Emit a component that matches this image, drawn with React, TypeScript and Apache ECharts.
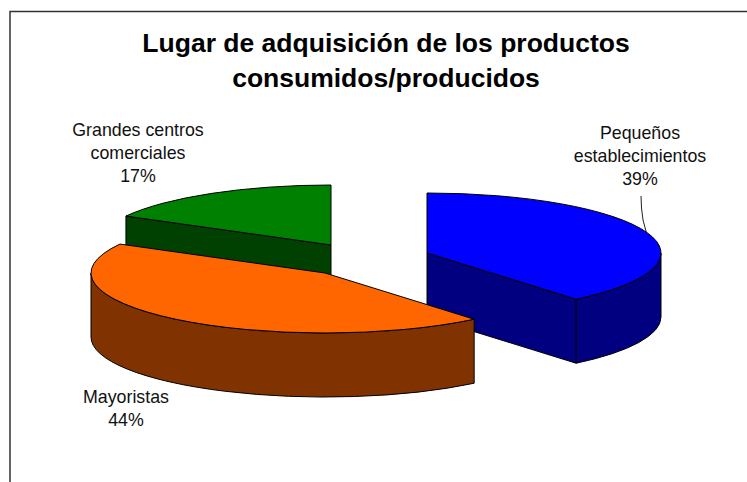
import React, { useEffect, useRef } from "react";
import * as echarts from "echarts";

const titleText = "Lugar de adquisición de los productos\nconsumidos/producidos";
const categories = ["Pequeños\nestablecimientos", "Mayoristas", "Grandes centros\ncomerciales"];
const shares = [39, 44, 17];

const topColors = ["#0000FF", "#FF6600", "#008000"];
const sideColors = ["#000080", "#803300", "#004000"];
const FONT = "'Liberation Sans', Arial, sans-serif";

// Layout of the exploded pie
const RX = 234;
const RY = 60;
const DEPTH = 64;
const apexes = [[427, 253], [325, 273], [331, 245]];
const paintOrder = [1, 2, 0];
const labelAnchors = [[640, 122], [126, 386], [138, 119]];

const total = shares.reduce((a, b) => a + b, 0);
const toRad = (deg: number) => (deg * Math.PI) / 180;

function renderItem(params: any, api: any) {
  const i = params.dataIndex;
  const value = api.value(0);
  let before = 0;
  for (let k = 0; k < i; k++) before += shares[k];
  const a0 = (before / total) * 360;
  const a1 = ((before + value) / total) * 360;
  const [cx, cy] = apexes[i];
  const pt = (deg: number, dy = 0) => [
    cx + RX * Math.sin(toRad(deg)),
    cy - RY * Math.cos(toRad(deg)) + dy,
  ];
  const f = (p: number[]) => `${p[0].toFixed(2)} ${p[1].toFixed(2)}`;
  const base = paintOrder[i] * 10;
  const strokeStyle = { stroke: "#000", lineWidth: 1, lineJoin: "round" };
  const children: any[] = [];

  const side = (d: string, z: number) =>
    children.push({
      type: "path",
      z2: base + z,
      shape: { pathData: d },
      style: { fill: sideColors[i], ...strokeStyle },
    });

  const face = (deg: number) =>
    side(
      `M${cx} ${cy}L${f(pt(deg))}L${f(pt(deg, DEPTH))}L${cx} ${cy + DEPTH}Z`,
      1
    );
  if (Math.sin(toRad(a0)) < -1e-6) face(a0);
  if (Math.sin(toRad(a1)) > 1e-6) face(a1);

  const w0 = Math.max(a0, 90);
  const w1 = Math.min(a1, 270);
  if (w1 > w0) {
    const large = w1 - w0 > 180 ? 1 : 0;
    side(
      `M${f(pt(w0))}A${RX} ${RY} 0 ${large} 1 ${f(pt(w1))}L${f(pt(w1, DEPTH))}A${RX} ${RY} 0 ${large} 0 ${f(pt(w0, DEPTH))}Z`,
      2
    );
  }

  const large = a1 - a0 > 180 ? 1 : 0;
  children.push({
    type: "path",
    z2: base + 3,
    shape: { pathData: `M${cx} ${cy}L${f(pt(a0))}A${RX} ${RY} 0 ${large} 1 ${f(pt(a1))}Z` },
    style: { fill: topColors[i], ...strokeStyle },
  });

  children.push({
    type: "text",
    z2: 100,
    x: labelAnchors[i][0],
    y: labelAnchors[i][1],
    style: {
      text: `${categories[i]}\n${value}%`,
      fill: "#111",
      fontFamily: FONT,
      fontSize: 17.8,
      lineHeight: 22.7,
      align: "center",
      verticalAlign: "top",
    },
  });

  return { type: "group", children };
}

export default function App() {
  const ref = useRef<HTMLDivElement>(null);
  useEffect(() => {
    document.body.style.margin = "0";
    const chart = echarts.init(ref.current as HTMLDivElement, null, { renderer: "svg" });
    chart.setOption({
      animation: false,
      backgroundColor: "#fff",
      title: {
        text: titleText,
        left: 381,
        top: 20,
        textAlign: "center",
        textStyle: {
          fontFamily: FONT,
          fontSize: 26.5,
          fontWeight: "bold",
          color: "#000",
          lineHeight: 35,
        },
      },
      graphic: [
        {
          type: "polyline",
          shape: { points: [[10, 482], [10, 11.5], [747, 11.5]] },
          style: { stroke: "#333", lineWidth: 1.5, fill: "none" },
        },
        {
          type: "polyline",
          shape: { points: [[641, 196], [641.5, 208], [643, 220], [646.5, 233]] },
          style: { stroke: "#222", lineWidth: 1, fill: "none" },
        },
      ],
      series: [
        {
          type: "custom",
          coordinateSystem: "none",
          renderItem,
          data: shares,
        },
      ],
    });
    return () => chart.dispose();
  }, []);
  return <div ref={ref} style={{ width: 747, height: 482 }} />;
}
